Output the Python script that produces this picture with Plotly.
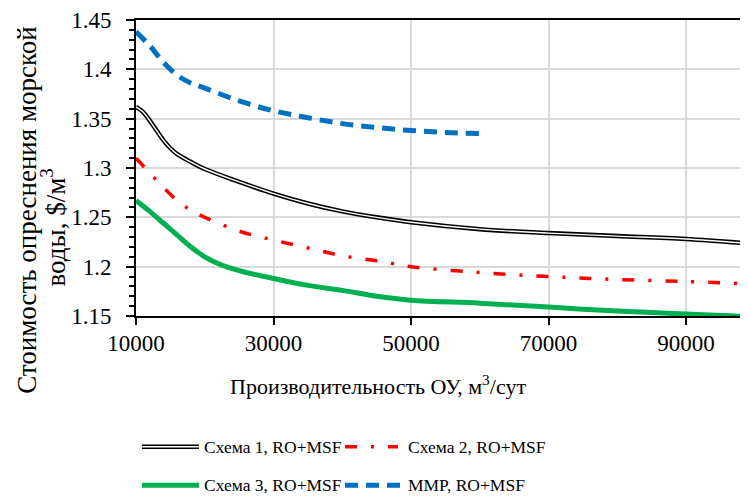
import plotly.graph_objects as go

# ---- data ----
x_s1 = [10000, 11000, 12000, 13000, 14000, 15000, 16000, 18000, 20000, 25000, 30000, 35000,
        40000, 45000, 50000, 60000, 70000, 80000, 90000, 100000]
y_s1 = [1.362, 1.357, 1.348, 1.338, 1.328, 1.320, 1.314, 1.306, 1.299, 1.286, 1.274, 1.264,
        1.256, 1.250, 1.245, 1.238, 1.234, 1.231, 1.228, 1.223]

x_s2 = [10000, 12000, 14000, 16000, 18000, 20000, 25000, 30000, 35000, 40000, 45000, 50000,
        60000, 70000, 80000, 90000, 98000]
y_s2 = [1.310, 1.295, 1.280, 1.267, 1.257, 1.250, 1.236, 1.227, 1.219, 1.211, 1.206, 1.200,
        1.194, 1.190, 1.187, 1.185, 1.183]

x_s3 = [10000, 12000, 14000, 16000, 18000, 20000, 22000, 25000, 30000, 35000, 40000, 45000,
        50000, 60000, 70000, 80000, 90000, 100000]
y_s3 = [1.267, 1.256, 1.244, 1.232, 1.220, 1.210, 1.203, 1.196, 1.188, 1.181, 1.176, 1.170,
        1.166, 1.163, 1.159, 1.155, 1.152, 1.149]

x_mmp = [10000, 12000, 14000, 16000, 18000, 20000, 25000, 30000, 35000, 40000, 45000, 50000, 55000, 60000]
y_mmp = [1.438, 1.424, 1.407, 1.394, 1.386, 1.381, 1.368, 1.358, 1.351, 1.345, 1.341, 1.338, 1.336, 1.335]

names = ["Схема 1, RO+MSF", "Схема 2, RO+MSF", "Схема 3, RO+MSF", "MMP, RO+MSF"]
x_title = "Производительность ОУ, м<sup>3</sup>/сут"
y_title_1 = "Стоимость опреснения морской"
y_title_2 = "воды, $/м<sup>3</sup>"
x_ticks = [10000, 30000, 50000, 70000, 90000]
y_ticks = [1.15, 1.2, 1.25, 1.3, 1.35, 1.4, 1.45]
y_ticktext = ["1.15", "1.2", "1.25", "1.3", "1.35", "1.4", "1.45"]

FONT = "Liberation Serif"
RED = "#ff0000"
GREEN = "#00b050"
BLUE = "#0070c0"
DOT_DASH = "12px,14px,3px,14px"
DASH = "13px,8px"

fig = go.Figure()
fig.add_trace(go.Scatter(x=x_s1, y=y_s1, mode="lines", line=dict(color="black", width=4.5, shape="spline"),
                         showlegend=False))
fig.add_trace(go.Scatter(x=x_s1, y=y_s1, mode="lines", line=dict(color="white", width=1.4, shape="spline"),
                         showlegend=False))
fig.add_trace(go.Scatter(x=x_s2, y=y_s2, mode="lines",
                         line=dict(color=RED, width=3.5, dash=DOT_DASH, shape="spline"), showlegend=False))
fig.add_trace(go.Scatter(x=x_s3, y=y_s3, mode="lines", line=dict(color=GREEN, width=5, shape="spline"),
                         showlegend=False))
fig.add_trace(go.Scatter(x=x_mmp, y=y_mmp, mode="lines",
                         line=dict(color=BLUE, width=5, dash=DASH, shape="spline"), showlegend=False))

# page has an 8px body margin; work in page pixels and convert
OFF = 8
FW, FH = 748 - OFF, 502 - OFF
L, T, R, B = 136 - OFF, 15 - OFF, 748 - OFF, 316 - OFF
W, H = R - L, B - T
def px(xp): return (xp - OFF - L) / W
def py(yp): return (B - (yp - OFF)) / H

shapes = []
annotations = []
legend_items = [
    (names[0], 142, 199, 202, 449, [dict(color="black", width=4.5), dict(color="white", width=1.4)]),
    (names[1], 345, 398, 406, 449, [dict(color=RED, width=3.5, dash=DOT_DASH)]),
    (names[2], 142, 199, 202, 488, [dict(color=GREEN, width=5)]),
    (names[3], 345, 402, 406, 488, [dict(color=BLUE, width=5, dash=DASH)]),
]
for name, x0, x1, xt, yy, lines in legend_items:
    for ln in lines:
        shapes.append(dict(type="line", xref="paper", yref="paper", x0=px(x0), x1=px(x1),
                           y0=py(yy), y1=py(yy), line=ln))
    annotations.append(dict(xref="paper", yref="paper", x=px(xt), y=py(yy),
                            text=name, showarrow=False, xanchor="left", yanchor="middle",
                            font=dict(family=FONT, size=17.5, color="black")))

# axis titles
annotations.append(dict(xref="paper", yref="paper", x=px(378), y=py(386), text=x_title,
                        showarrow=False, xanchor="center", yanchor="middle",
                        font=dict(family=FONT, size=22, color="black")))
annotations.append(dict(xref="paper", yref="paper", x=px(27), y=py(208), text=y_title_1,
                        showarrow=False, xanchor="center", yanchor="middle", textangle=-90,
                        font=dict(family=FONT, size=27, color="black")))
annotations.append(dict(xref="paper", yref="paper", x=px(54), y=py(226), text=y_title_2,
                        showarrow=False, xanchor="center", yanchor="middle", textangle=-90,
                        font=dict(family=FONT, size=27, color="black")))

fig.update_layout(
    width=FW, height=FH,
    margin=dict(l=L, r=FW - R, t=T, b=FH - B, pad=0),
    paper_bgcolor="white", plot_bgcolor="white",
    font=dict(family=FONT, size=22, color="black"),
    showlegend=False,
    shapes=shapes, annotations=annotations,
)
fig.update_xaxes(
    range=[10000, 99000], tickvals=x_ticks, ticktext=[str(v) for v in x_ticks],
    showgrid=True, gridcolor="#d9d9d9", gridwidth=1.5,
    showline=True, linecolor="black", linewidth=2, mirror=True,
    ticks="outside", ticklen=7, tickwidth=2, tickcolor="black",
    ticklabelstandoff=-2,
    tickfont=dict(family=FONT, size=23),
    zeroline=False,
)
fig.update_yaxes(
    range=[1.15, 1.45], tickvals=y_ticks, ticktext=y_ticktext,
    showgrid=True, gridcolor="#d9d9d9", gridwidth=1.5,
    showline=True, linecolor="black", linewidth=2,
    ticks="outside", ticklen=8, tickwidth=2, tickcolor="black",
    ticklabelstandoff=10, ticklabeloverflow="allow",
    minor=dict(tick0=1.15, dtick=0.01, ticks="outside", ticklen=5, tickwidth=1.5, tickcolor="black",
               showgrid=False),
    tickfont=dict(family=FONT, size=23),
    zeroline=False,
)

fig.write_html("out.html")
